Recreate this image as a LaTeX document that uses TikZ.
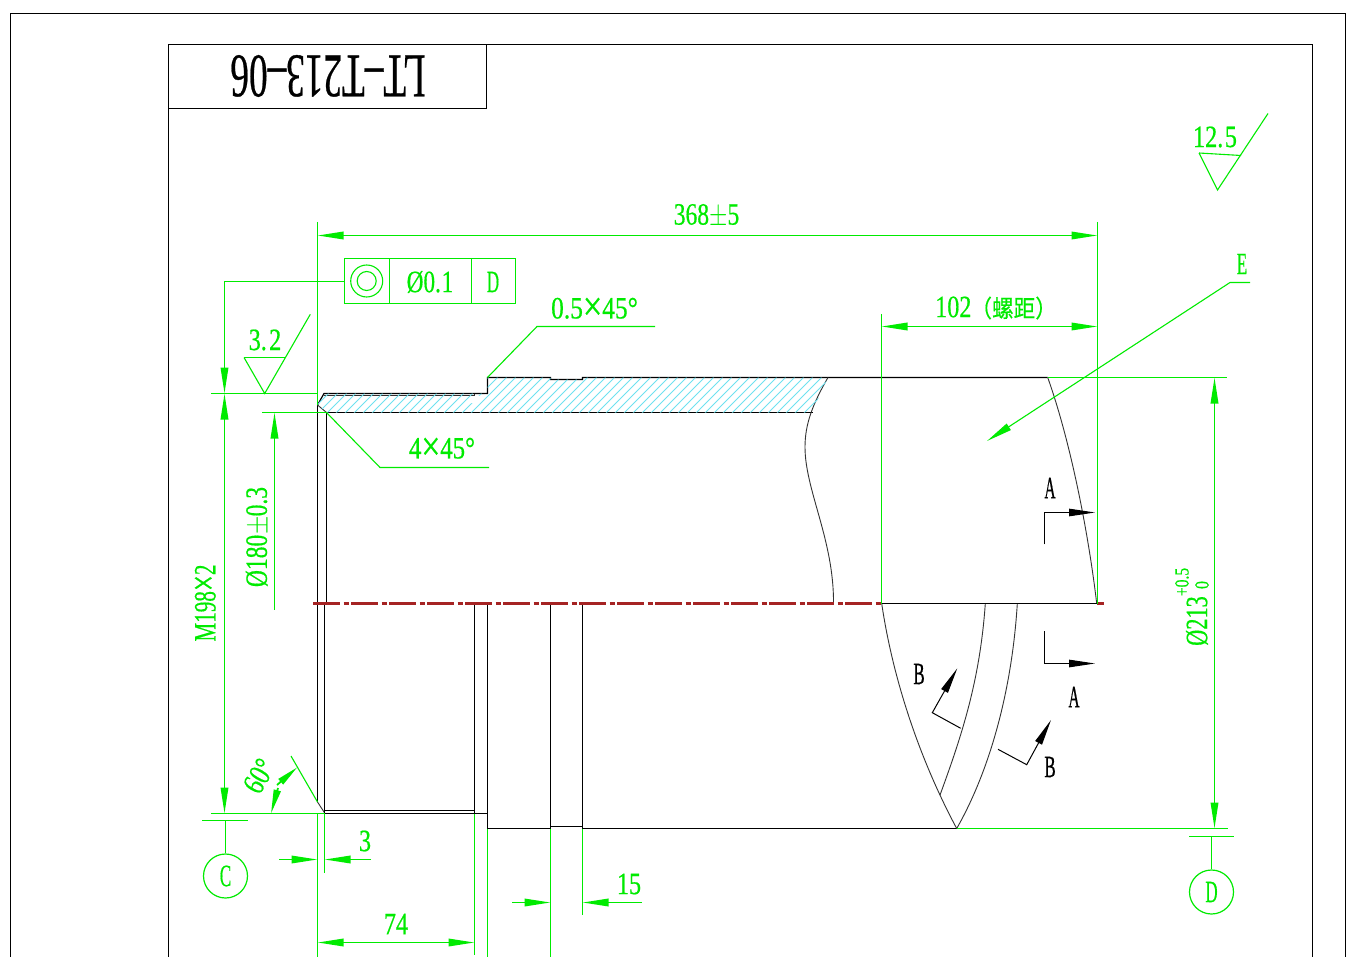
\documentclass[tikz,border=0pt]{standalone}
\usepackage{graphicx}
\usepackage{fontspec}
\setmainfont[FakeBold=0.6]{Liberation Serif}
\newfontfamily\cjk[FakeBold=0.4]{Noto Sans CJK SC}
\usetikzlibrary{arrows.meta,calc}
\definecolor{quotagreen}{RGB}{0,235,0}
\definecolor{axisred}{RGB}{165,35,35}
\definecolor{hatchcyan}{RGB}{110,225,240}
\newcommand{\cad}[2][.78]{\scalebox{#1}[1]{#2}}
\newcommand{\per}{\raisebox{-1.8pt}{\scalebox{1.35}{×}}}
\newcommand{\plm}{\raisebox{-.8pt}{\scalebox{1.25}{$\pm$}}}
\tikzset{
>={Stealth[length=26pt,width=7.5pt,inset=0pt]},
part line/.style={draw=black,line width=1.2pt},
thin part/.style={draw=black!80,line width=0.9pt},
sect line/.style={draw=black,line width=1pt},
quota/.style={draw=quotagreen,line width=1.8pt},
thin quota/.style={draw=quotagreen,line width=1.1pt},
axis line/.style={draw=axisred,line width=2.01pt},
hatch line/.style={draw=hatchcyan,line width=1pt},
quota text/.style={text=quotagreen,inner sep=0pt,font=\fontsize{31}{31}\selectfont},
small quota/.style={text=quotagreen,inner sep=0pt,font=\fontsize{20}{20}\selectfont},
sect text/.style={text=black,inner sep=0pt,font=\fontsize{31}{31}\selectfont},
datum circle/.style={circle,draw=quotagreen,line width=1.2pt,inner sep=0pt,minimum size=44pt}}

\begin{document}
\begin{tikzpicture}[x=1pt,y=-1pt]
\useasboundingbox (0,0) rectangle (1354,957);
\fill[white] (0,0) rectangle (1354,957);

% frames
\draw[part line] (10.5,957) -- (10.5,13.5) -- (1345.5,13.5) -- (1345.5,957);
\draw[part line] (168.5,957) -- (168.5,44.5) -- (1312.5,44.5) -- (1312.5,957);
\draw[part line] (168.5,108.5) -- (486.5,108.5) -- (486.5,44.5);
\node[inner sep=0pt,rotate=180,font=\fontsize{62}{62}\selectfont] (title) at (328,76) {\cad[.6]{LT–T213–06}};

% upper half
\draw[part line] (317.5,405) -- (324,393.5) -- (487.5,393.5) -- (487.5,377.5) -- (550.5,377.5) -- (550.5,379.5) -- (582.5,379.5) -- (582.5,377.5) -- (1047.7,377.5);
\draw[thin part] (324,395.5) -- (474.5,395.5) -- (474.5,393.5);
\draw[part line] (326.5,412.5) -- (813,412.5);
\draw[part line] (317.5,405) -- (317.5,603.5);
\draw[part line] (326.5,412.5) -- (326.5,603.5);
\draw[thin part] (317.5,405) -- (326.5,412.5);
\draw[thin part] (828,377.5) .. controls (812,405) and (805,425) .. (805,447) .. controls (805,490) and (834,540) .. (833.5,603.5);
\draw[thin part] (1047.7,377.5) .. controls (1070,440) and (1088,530) .. (1096.7,603.5);

% section hatching
\begin{scope}
\clip (317.5,405) -- (324,393.5) -- (487.5,393.5) -- (487.5,377.5) -- (550.5,377.5) -- (550.5,379.5) -- (582.5,379.5) -- (582.5,377.5) -- (828,377.5) -- (812,412.5) -- (326.5,412.5) -- cycle;
\foreach \x in {300,309,...,840}
  \draw[hatch line] (\x,413) -- ++(45,-45);
\end{scope}
\fill[white] (465,403) -- (475.5,396.5) -- (486.5,394.5) -- (477,403) -- cycle;

% lower half
\draw[part line] (317.5,603.5) -- (317.5,802) ;
\draw[thin part] (317.5,802) -- (324.5,812.7);
\draw[part line] (324.5,603.5) -- (324.5,813.5);
\draw[part line] (324.5,810.5) -- (474.5,810.5);
\draw[part line] (324.5,813.5) -- (487.5,813.5);
\draw[part line] (474.5,603.5) -- (474.5,813.5);
\draw[part line] (487.5,603.5) -- (487.5,828.5) -- (550.5,828.5);
\draw[part line] (550.5,603.5) -- (550.5,828.5);
\draw[part line] (550.5,826.5) -- (582.5,826.5);
\draw[part line] (582.5,603.5) -- (582.5,828.5) -- (956.7,828.5);
\draw[thin part] (881.7,603.5) .. controls (893,680) and (920,760) .. (956.7,828.5);
\draw[thin part] (985.3,603.5) .. controls (980,680) and (962,735) .. (940,795);
\draw[thin part] (1017.3,603.5) .. controls (1012,690) and (990,770) .. (956.7,828.5);

% axis
\draw[axis line,dash pattern=on 27pt off 3.5pt on 5pt off 2.5pt,dash phase=36pt] (311,603.5) -- (881,603.5);
\draw[part line] (881,603.5) -- (1097,603.5);
\draw[axis line] (1097,603.5) -- (1104,603.5);

% section marks
\draw[sect line,->] (1044.5,544.3) -- (1044.5,512.5) -- (1095,512.5);
\draw[sect line,->] (1044.5,631.3) -- (1044.5,663.5) -- (1095,663.5);
\draw[sect line,->] (960.7,728.3) -- (932.3,712.7) -- (957.3,668.3);
\draw[sect line,->] (998,749.3) -- (1026.7,764.7) -- (1051,720);
\node[sect text] (secA) at (1050,488) {\cad[.5]{A}};
\node[sect text] (secAb) at (1074,697) {\cad[.5]{A}};
\node[sect text] (secB) at (919,674) {\cad[.55]{B}};
\node[sect text] (secBb) at (1050,767) {\cad[.55]{B}};

% overall lengths
\draw[quota] (317.5,222) -- (317.5,405);
\draw[quota] (1097.5,222) -- (1097.5,603.5);
\draw[quota,<->] (317.5,235.5) -- (1097.5,235.5);
\node[quota text] (len) at (706.5,216) {\cad[.76]{368\plm 5}};
\draw[quota] (881.5,314) -- (881.5,603.5);
\draw[quota,<->] (881.5,326.5) -- (1097.5,326.5);
\node[quota text,anchor=west] (pitch) at (935,308) {\cad{102}\kern-1pt\cad[.9]{\cjk\fontsize{24}{24}\selectfont （螺距）}};

% big diameter
\draw[quota] (1047.7,377.5) -- (1227,377.5);
\draw[quota] (956.7,828.5) -- (1228,828.5);
\draw[quota,<->] (1214.5,377.5) -- (1214.5,828.5);
\node[quota text,rotate=90] (dia) at (1197,621) {\cad[.72]{Ø213}};
\node[small quota,rotate=90] (diaup) at (1182,582) {\cad{+0.5}};
\node[small quota,rotate=90] (dialow) at (1202,585) {\cad{0}};

% datum D
\draw[quota] (1189,836.5) -- (1234,836.5);
\node[datum circle] (datD) at (1211.5,892) {};
\draw[quota] (1211.5,836.5) -- (datD.north);
\node[quota text] (datDt) at (datD) {\cad[.55]{D}};

% thread
\draw[quota] (211,393.5) -- (317.5,393.5);
\draw[quota] (211,813.5) -- (324.5,813.5);
\draw[quota,<-] (224.5,393.5) -- (224.5,281.5) -- (344.5,281.5);
\draw[quota,<->] (224.5,393.5) -- (224.5,813.5);
\node[quota text,rotate=90] (thr) at (206,603) {\cad[.68]{M198\per 2}};
\draw[quota] (262,412.5) -- (326.5,412.5);
\draw[quota,<-] (274.5,412.5) -- (274.5,610);
\node[quota text,rotate=90] (bore) at (258,537) {\cad[.76]{Ø180\plm 0.3}};

% datum C
\draw[quota] (202,820.5) -- (248,820.5);
\node[datum circle] (datC) at (225.5,876) {};
\draw[quota] (225.5,820.5) -- (datC.north);
\node[quota text] (datCt) at (datC) {\cad[.55]{C}};

% tolerance frame
\draw[quota] (344.5,258.5) rectangle (515.5,303.5);
\draw[quota] (389.5,258.5) -- (389.5,303.5);
\draw[quota] (471.5,258.5) -- (471.5,303.5);
\node[circle,thin quota,minimum size=32pt,inner sep=0pt] (coaxo) at (366.7,281) {};
\node[circle,thin quota,minimum size=19pt,inner sep=0pt] (coaxi) at (366.7,281) {};
\node[quota text] (tol) at (430,282) {\cad[.75]{Ø0.\kern1pt 1}};
\node[quota text] (tolD) at (493,282) {\cad[.55]{D}};

% roughness
\draw[thin quota] (244,357.5) -- (286,357.5);
\draw[thin quota] (244,357.5) -- (264.7,393.5) -- (310.3,314.3);
\node[quota text] (rough) at (265,340) {\cad[.78]{3.\kern3pt 2}};
\draw[thin quota] (1199,153) -- (1241,155.5);
\draw[thin quota] (1199,153) -- (1217.5,190) -- (1268,113.5);
\node[quota text] (roughb) at (1215,137) {\cad[.78]{12.\kern2pt 5}};

% chamfers
\draw[thin quota] (487.5,377.5) -- (537,326.5) -- (655,326.5);
\node[quota text] (cham) at (594.5,309) {\cad[.82]{0.5\per 45°}};
\draw[thin quota] (326.5,412.5) -- (380,467.5) -- (489,467.5);
\node[quota text] (chamb) at (442,449) {\cad[.8]{4\per 45°}};

% leader E
\draw[thin quota,->] (1250,282.5) -- (1230,282.5) -- (987,441);
\node[quota text] (leadE) at (1242,264) {\cad[.55]{E}};

% bottom lengths
\draw[thin quota] (317.5,802) -- (291,756);
\draw[quota] (317.5,813.5) -- (317.5,957);
\draw[quota] (324.5,813.5) -- (324.5,872.7);
\draw[quota,->] (279,859.5) -- (317.5,859.5);
\draw[quota,->] (371,859.5) -- (324.5,859.5);
\node[quota text] (gap) at (365,841) {\cad{3}};
\draw[quota] (474.5,813.5) -- (474.5,955);
\draw[quota,<->] (317.5,942.5) -- (474.5,942.5);
\node[quota text] (len74) at (396,924) {\cad{74}};
\draw[quota] (487.5,828.5) -- (487.5,957);
\draw[quota] (550.5,828.5) -- (550.5,957);
\draw[quota] (582.5,828.5) -- (582.5,915);
\draw[quota,->] (512,902.5) -- (550.5,902.5);
\draw[quota,->] (642,902.5) -- (582.5,902.5);
\node[quota text] (len15) at (629,884) {\cad{15}};

% angle
\draw[quota,-{Stealth[length=22pt,width=7pt,inset=0pt]}] (277,785) -- (297.3,767.3);
\draw[quota,-{Stealth[length=24pt,width=7pt,inset=0pt]}] (278,788) -- (271,813.5);
\node[quota text,rotate=60] (ang) at (259,776) {\cad{60°}};
\end{tikzpicture}
\end{document}
